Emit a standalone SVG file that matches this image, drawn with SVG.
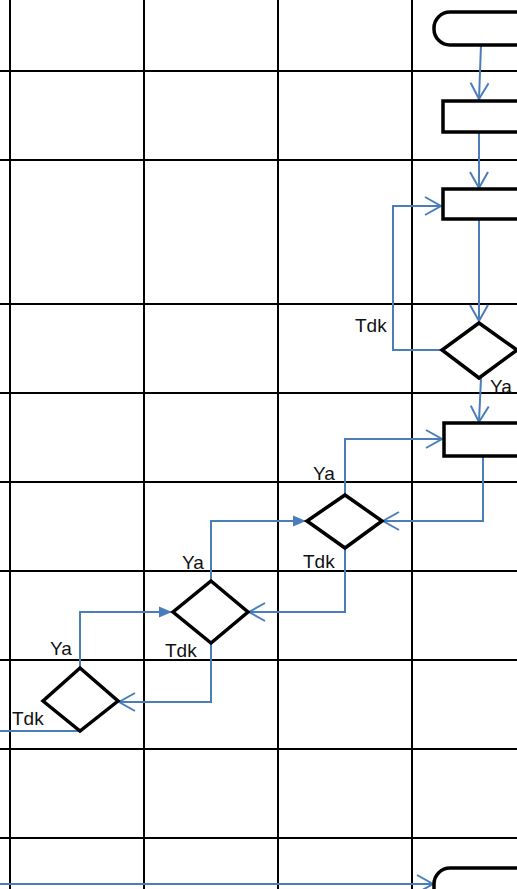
<svg xmlns="http://www.w3.org/2000/svg" width="517" height="889" viewBox="0 0 517 889">
<style>
.grid{stroke:#000;stroke-width:2;fill:none}
.shape{stroke:#000;stroke-width:3.5;fill:#fff}
.conn{stroke:#4A7EBB;stroke-width:2;fill:none}
.lbl{font-family:"Liberation Sans",Arial,sans-serif;font-size:19px;fill:#111}
</style>
<defs>
<marker id="open" viewBox="-18 -12 20 24" refX="0" refY="0" markerWidth="20" markerHeight="24" markerUnits="userSpaceOnUse" orient="auto" overflow="visible">
<path d="M-16,-9 L0,0 L-16,9" fill="none" stroke="#4A7EBB" stroke-width="2"/>
</marker>
<marker id="fill" viewBox="-14 -6 16 12" refX="0" refY="0" markerWidth="16" markerHeight="12" markerUnits="userSpaceOnUse" orient="auto" overflow="visible">
<path d="M-13,-5.5 L0,0 L-13,5.5 Z" fill="#4A7EBB"/>
</marker>
</defs>
<rect width="517" height="889" fill="#fff"/>
<g id="grid" class="grid">
<line x1="10" y1="0" x2="10" y2="889"/>
<line x1="144" y1="0" x2="144" y2="889"/>
<line x1="278" y1="0" x2="278" y2="889"/>
<line x1="412" y1="0" x2="412" y2="889"/>
<line x1="0" y1="71" x2="517" y2="71"/>
<line x1="0" y1="160" x2="517" y2="160"/>
<line x1="0" y1="304" x2="517" y2="304"/>
<line x1="0" y1="393" x2="517" y2="393"/>
<line x1="0" y1="482" x2="517" y2="482"/>
<line x1="0" y1="571" x2="517" y2="571"/>
<line x1="0" y1="660" x2="517" y2="660"/>
<line x1="0" y1="749" x2="517" y2="749"/>
<line x1="0" y1="838" x2="517" y2="838"/>
</g>
<g id="connectors" class="conn">
<path d="M481,45 L479,99" marker-end="url(#open)"/>
<path d="M479,132 L479,188" marker-end="url(#open)"/>
<path d="M442,350 L393,350 L393,206 L441,206" marker-end="url(#open)"/>
<path d="M479,219 L479,321" marker-end="url(#open)"/>
<path d="M481,378 L479,422" marker-end="url(#open)"/>
<path d="M345,495 L345,439 L442,439" marker-end="url(#open)"/>
<path d="M483,456 L483,521 L383,521" marker-end="url(#open)"/>
<path d="M345,548 L345,612 L249,612" marker-end="url(#open)"/>
<path d="M211,581 L211,521 L306,521" marker-end="url(#fill)"/>
<path d="M211,643 L211,702 L119,702" marker-end="url(#open)"/>
<path d="M80,668 L80,612 L172,612" marker-end="url(#fill)"/>
<path d="M80,731 L0,731"/>
<path d="M0,884 L433,884" marker-end="url(#open)"/>
</g>
<g id="start"><rect class="shape" x="434" y="12" width="110" height="33" rx="16"/></g>
<g id="step1"><rect class="shape" x="443" y="101" width="80" height="31"/></g>
<g id="step2"><rect class="shape" x="443" y="189" width="80" height="30"/></g>
<g id="decision1"><polygon class="shape" points="479,323 517,350 479,378 442,350"/></g>
<g id="step3"><rect class="shape" x="444" y="423" width="80" height="33"/></g>
<g id="decision2"><polygon class="shape" points="345,495 382,521 345,548 307,521"/></g>
<g id="decision3"><polygon class="shape" points="211,581 248,612 211,643 173,612"/></g>
<g id="decision4"><polygon class="shape" points="80,668 118,701 80,731 43,701"/></g>
<g id="end"><rect class="shape" x="434" y="868" width="110" height="50" rx="16"/></g>
<g id="labels">
<text class="lbl" x="355" y="332">Tdk</text>
<text class="lbl" x="490" y="393">Ya</text>
<text class="lbl" x="313" y="480">Ya</text>
<text class="lbl" x="303" y="568">Tdk</text>
<text class="lbl" x="182" y="569">Ya</text>
<text class="lbl" x="165" y="657">Tdk</text>
<text class="lbl" x="50" y="655">Ya</text>
<text class="lbl" x="12" y="725">Tdk</text>
</g>
</svg>
